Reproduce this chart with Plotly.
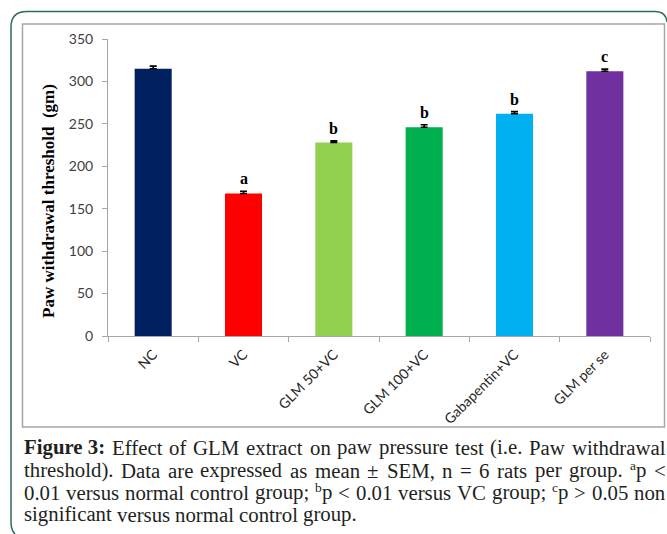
import re
import plotly.graph_objects as go

# Paw withdrawal threshold per treatment group (mean ± SEM)
groups = ["NC", "VC", "GLM 50+VC", "GLM 100+VC", "Gabapentin+VC", "GLM per se"]
means = [315, 168, 228, 246, 262, 312]
sem = [3, 2.5, 2, 3, 2.5, 2.5]
sig_letters = ["", "a", "b", "b", "b", "c"]
bar_colors = ["#002060", "#FF0000", "#92D050", "#00B050", "#00B0F0", "#7030A0"]

y_ticks = [0, 50, 100, 150, 200, 250, 300, 350]

# figure caption, one string per printed line
caption_lines = [
    "<b>Figure 3:</b> Effect of GLM extract on paw pressure test (i.e. Paw withdrawal",
    "threshold). Data are expressed as mean ± SEM, n = 6 rats per group. <sup>a</sup>p <",
    "0.01 versus normal control group; <sup>b</sup>p < 0.01 versus VC group; <sup>c</sup>p > 0.05 non",
    "significant versus normal control group.",
]

W, H = 667, 534
L, R, T, B = 108, 17, 39, 198
PW, PH = W - L - R, H - T - B


def px(x):
    return (x - L) / PW


def py(y):
    return (H - B - y) / PH


# Times advance widths (1/1000 em) used to justify the caption
TIMES = {
    " ": 250, "(": 333, ")": 333, ",": 250, ".": 250, ":": 278, ";": 278,
    "<": 564, ">": 564, "=": 564, "±": 564, "+": 564,
    "A": 722, "B": 667, "C": 667, "D": 722, "E": 611, "F": 556, "G": 722,
    "H": 722, "I": 333, "L": 611, "M": 889, "N": 722, "P": 556, "S": 556,
    "V": 722, "a": 444, "b": 500, "c": 444, "d": 500, "e": 444, "f": 333,
    "g": 500, "h": 500, "i": 278, "j": 278, "k": 500, "l": 278, "m": 778,
    "n": 500, "o": 500, "p": 500, "q": 500, "r": 333, "s": 389, "t": 278,
    "u": 500, "v": 500, "w": 722, "x": 500, "y": 500, "z": 444,
}
TIMES_BOLD = {" ": 250, ":": 333, "F": 611, "i": 278, "g": 500, "u": 556,
              "r": 444, "e": 444}
for d in "0123456789":
    TIMES[d] = 500
    TIMES_BOLD[d] = 500

CAP_SIZE = 20.8
SUP_SIZE = 13.5


def plain_width(s, size, table=TIMES):
    return sum(table.get(c, TIMES.get(c, 500)) for c in s) / 1000 * size


def markup_width(s):
    """Approximate rendered width of a word that may hold <b>/<sup> runs."""
    total = 0.0
    pos = 0
    for m in re.finditer(r"<(b|sup)>(.*?)</\1>", s):
        total += plain_width(s[pos:m.start()], CAP_SIZE)
        if m.group(1) == "b":
            total += plain_width(m.group(2), CAP_SIZE, TIMES_BOLD)
        else:
            total += plain_width(m.group(2), SUP_SIZE)
        pos = m.end()
    return total + plain_width(s[pos:], CAP_SIZE)


cap_font = dict(family="Liberation Serif", size=CAP_SIZE, color="#231f20")
sup_font = dict(family="Liberation Serif", size=SUP_SIZE, color="#231f20")
cap_left, cap_right = 22.7, 664.5
cap_baselines = [454.5, 478, 500, 522]

fig = go.Figure()
fig.add_trace(go.Bar(
    x=groups, y=means,
    marker=dict(color=bar_colors, line=dict(width=0)),
    error_y=dict(type="data", symmetric=False, array=sem,
                 arrayminus=[0] * len(sem), color="#000000",
                 thickness=1.6, width=3.5),
    hoverinfo="skip",
))

annotations = []
for g, m, s, lab in zip(groups, means, sem, sig_letters):
    if lab:
        annotations.append(dict(
            x=g, y=m + s, xref="x", yref="y", text=f"<b>{lab}</b>",
            showarrow=False, yanchor="bottom", yshift=2,
            font=dict(family="Liberation Serif", size=16, color="#000000"),
        ))

annotations.append(dict(
    x=px(48), y=py(201), xref="paper", yref="paper",
    text="<b>Paw withdrawal threshold  (gm)</b>", textangle=-90,
    showarrow=False, xanchor="center", yanchor="middle",
    font=dict(family="Liberation Serif", size=17, color="#000000"),
))


def word_note(x, y, text, font):
    return dict(x=px(x), y=py(y), xref="paper", yref="paper", text=text,
                showarrow=False, xanchor="left", yanchor="bottom",
                borderpad=0, font=font)


# justified caption: every word placed on its own, gaps stretched to fill
# the line, except the last line which keeps normal spacing
for i, line in enumerate(caption_lines):
    base = cap_baselines[i]
    words = re.split(r" (?![^<]*</b>)", line)
    widths = [markup_width(w) for w in words]
    if i < len(caption_lines) - 1 and len(words) > 1:
        gap = (cap_right - cap_left - sum(widths)) / (len(words) - 1)
    else:
        gap = TIMES[" "] / 1000 * CAP_SIZE
    x = cap_left
    for w, wd in zip(words, widths):
        sup = re.match(r"<sup>(.*?)</sup>(.*)", w)
        if sup:
            # raised footnote mark followed by the rest of the word
            annotations.append(word_note(x, base - 4, sup.group(1), sup_font))
            sw = plain_width(sup.group(1), SUP_SIZE)
            annotations.append(word_note(x + sw, base + 5, sup.group(2), cap_font))
        else:
            annotations.append(word_note(x, base + 5, w, cap_font))
        x += wd + gap

shapes = [
    # chart box
    dict(type="rect", xref="paper", yref="paper",
         x0=px(22.5), x1=px(664.5), y0=py(427), y1=py(24),
         line=dict(color="#a6a6a6", width=1.5), layer="below"),
    # page frame
    dict(type="path", xref="paper", yref="paper",
         path=(f"M {px(667)},{py(22)} Q {px(666)},{py(11.5)} {px(655)},{py(11.5)} "
               f"L {px(27)},{py(11.5)} Q {px(11)},{py(11.5)} {px(11)},{py(27)} "
               f"L {px(11)},{py(522)} Q {px(11)},{py(530)} {px(15)},{py(534)}"),
         line=dict(color="#2e6b60", width=1.5)),
]

fig.update_layout(
    width=W, height=H,
    margin=dict(l=L, r=R, t=T, b=B),
    paper_bgcolor="#ffffff", plot_bgcolor="#ffffff",
    showlegend=False, bargap=0.59,
    annotations=annotations, shapes=shapes,
    xaxis=dict(
        showline=True, linecolor="#a6a6a6", linewidth=1,
        ticks="outside", ticklen=5, tickcolor="#a6a6a6",
        tickson="boundaries", tickangle=-45, ticklabelstandoff=4,
        tickfont=dict(family="Lato", size=14, color="#262626"),
        showgrid=False, zeroline=False, fixedrange=True,
    ),
    yaxis=dict(
        range=[0, 350], tickvals=y_ticks,
        showline=True, linecolor="#a6a6a6", linewidth=1,
        ticks="outside", ticklen=5, tickcolor="#a6a6a6", ticklabelstandoff=6,
        tickfont=dict(family="Lato", size=14, color="#404040"),
        showgrid=False, zeroline=False, fixedrange=True,
    ),
)

fig.write_html("out.html")
